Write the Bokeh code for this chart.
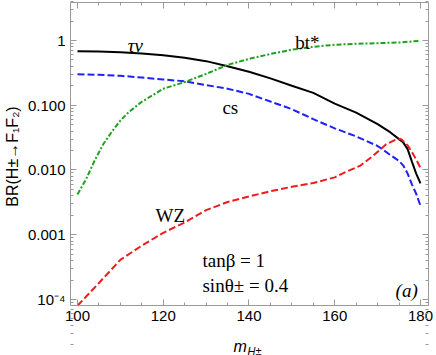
import numpy as np
from bokeh.plotting import figure
from bokeh.models import Range1d, FixedTicker, LogAxis, LinearAxis, Label
from bokeh.embed import file_html
from bokeh.resources import INLINE

# ---- data ----
x_tau = [100, 105, 110, 115, 120, 125, 130, 135, 140, 145, 150, 155, 160, 165, 170, 173, 175, 176, 177, 178, 179, 180]
br_tau = [0.68, 0.675, 0.66, 0.63, 0.59, 0.54, 0.48, 0.40, 0.33, 0.26, 0.20, 0.155, 0.106, 0.077, 0.051, 0.038,
          0.030, 0.0265, 0.021, 0.0135, 0.0088, 0.0062]

x_cs = [100, 105, 110, 115, 120, 125, 130, 135, 140, 145, 150, 155, 160, 165, 170, 173, 175, 176, 177, 178, 179, 180]
br_cs = [0.30, 0.295, 0.285, 0.268, 0.25, 0.235, 0.205, 0.18, 0.150, 0.114, 0.087, 0.061, 0.044, 0.033, 0.0235,
         0.017, 0.0138, 0.0117, 0.0088, 0.0060, 0.0043, 0.0028]

x_bt = [100, 102, 104, 106, 108, 110, 112, 115, 120, 125, 130, 135, 140, 145, 150, 155, 160, 165, 170, 175, 180]
br_bt = [0.0042, 0.0072, 0.0140, 0.025, 0.039, 0.058, 0.079, 0.113, 0.18, 0.228, 0.305, 0.42, 0.52, 0.62, 0.72,
         0.80, 0.86, 0.89, 0.91, 0.93, 0.99]

x_wz = [100, 105, 110, 115, 120, 125, 130, 135, 140, 145, 150, 155, 160, 163, 166, 169, 172, 174, 175.5, 177, 178,
        179, 180]
br_wz = [8.0e-5, 1.8e-4, 4.1e-4, 6.8e-4, 1.07e-3, 1.55e-3, 2.4e-3, 3.2e-3, 3.9e-3, 4.7e-3, 5.5e-3, 6.3e-3, 7.7e-3,
         9.6e-3, 0.0117, 0.0167, 0.025, 0.029, 0.030, 0.024, 0.019, 0.0145, 0.0108]

x_major = [100, 120, 140, 160, 180]
x_minor = list(range(100, 181, 5))
y_major = [1e-4, 1e-3, 1e-2, 1e-1, 1]
y_major_labels = ["10\u207b\u2074", "0.001", "0.010", "0.100", "1"]
y_minor = [k * 10.0 ** e for e in range(-5, 1) for k in range(2, 10)]

# visible plot box (data units) and its pixel margins inside the canvas
BOX_X = (98.37, 181.87)
BOX_LOGY = (-4.0927, 0.5869)
W, H = 436, 355
M_LEFT, M_RIGHT, M_TOP, M_BOTTOM = 70, 8, 2, 50

ux = (BOX_X[1] - BOX_X[0]) / (W - M_LEFT - M_RIGHT)
uy = (BOX_LOGY[1] - BOX_LOGY[0]) / (H - M_TOP - M_BOTTOM)
xr = Range1d(BOX_X[0] - M_LEFT * ux, BOX_X[1] + M_RIGHT * ux)
yr = Range1d(10 ** (BOX_LOGY[0] - M_BOTTOM * uy), 10 ** (BOX_LOGY[1] + M_TOP * uy))
ybot, ytop = 10 ** BOX_LOGY[0], 10 ** BOX_LOGY[1]

FRAME = "#9a9a9a"
SANS = "Liberation Sans"
SERIF = "Liberation Serif"

p = figure(width=W, height=H, x_range=xr, y_range=yr, y_axis_type="log",
           output_backend="svg", toolbar_location=None,
           min_border_left=0, min_border_right=0, min_border_top=0, min_border_bottom=0)
p.grid.visible = False
p.outline_line_color = None
p.background_fill_color = "white"
p.border_fill_color = "white"

# lines
p.line(x_tau, br_tau, line_color="black", line_width=2)
p.line(x_cs, br_cs, line_color="#1f1fff", line_width=2, line_dash="7 3")
p.line(x_bt, br_bt, line_color="#1fa01f", line_width=2, line_dash="5 2 2 2")
p.line(x_wz, br_wz, line_color="#ee1c1c", line_width=2, line_dash="7 3")

xt = FixedTicker(ticks=x_major, minor_ticks=x_minor)
yt = FixedTicker(ticks=y_major, minor_ticks=y_minor)


def style_axis(ax, labels=True):
    ax.axis_line_color = FRAME
    ax.major_tick_line_color = FRAME
    ax.minor_tick_line_color = FRAME
    ax.major_tick_in = 6
    ax.major_tick_out = 0
    ax.minor_tick_in = 3
    ax.minor_tick_out = 0
    if labels:
        ax.major_label_text_font = SANS
        ax.major_label_text_font_size = "15px"
        ax.major_label_text_color = "black"
        ax.major_label_standoff = 5
    else:
        ax.major_label_text_font_size = "1px"
        ax.major_label_text_color = None
        ax.major_label_standoff = 0


xa = p.xaxis[0]
ya = p.yaxis[0]
xa.ticker = xt
ya.ticker = yt
ya.major_label_overrides = {v: s for v, s in zip(y_major, y_major_labels)}
style_axis(xa)
style_axis(ya)
xa.fixed_location = ybot
xa.bounds = BOX_X
ya.fixed_location = BOX_X[0]
ya.bounds = (ybot, ytop)

top = LinearAxis(ticker=xt, fixed_location=ytop, bounds=BOX_X)
style_axis(top, labels=False)
p.add_layout(top, "above")
right = LogAxis(ticker=yt, fixed_location=BOX_X[1], bounds=(ybot, ytop))
style_axis(right, labels=False)
p.add_layout(right, "right")

# axis titles (screen units from the canvas' bottom-left corner)
p.add_layout(Label(x=12, y=H - 156, x_units="screen", y_units="screen", text="BR(H\u00b1\u2192F\u2081F\u2082)",
                   angle=np.pi / 2, text_align="center", text_baseline="middle",
                   text_font=SANS, text_font_size="16px", text_color="black"))
p.add_layout(Label(x=233, y=H - 346, x_units="screen", y_units="screen", text="m",
                   text_align="left", text_baseline="alphabetic", text_font=SANS,
                   text_font_style="italic", text_font_size="16px", text_color="black"))
p.add_layout(Label(x=247, y=H - 350, x_units="screen", y_units="screen", text="H\u00b1",
                   text_align="left", text_baseline="alphabetic", text_font=SANS,
                   text_font_style="italic", text_font_size="11px", text_color="black"))


# in-plot annotations
def note(x, y, text, style="normal"):
    p.add_layout(Label(x=x, y=y, text=text, text_align="left", text_baseline="alphabetic",
                       text_font=SERIF, text_font_size="19px", text_font_style=style, text_color="black"))


note(111.7, 0.83, "\u03c4\u03bd", "italic")
note(150.8, 0.93, "bt*")
note(133.8, 0.091, "cs")
note(118.2, 2.0e-3, "WZ")
note(129.15, 4.0e-4, "tan\u03b2 = 1")
note(129.15, 1.64e-4, "sin\u03b8\u00b1 = 0.4")
note(174.2, 1.38e-4, "(a)", "italic")

open("out.html", "w").write(file_html(p, INLINE))
